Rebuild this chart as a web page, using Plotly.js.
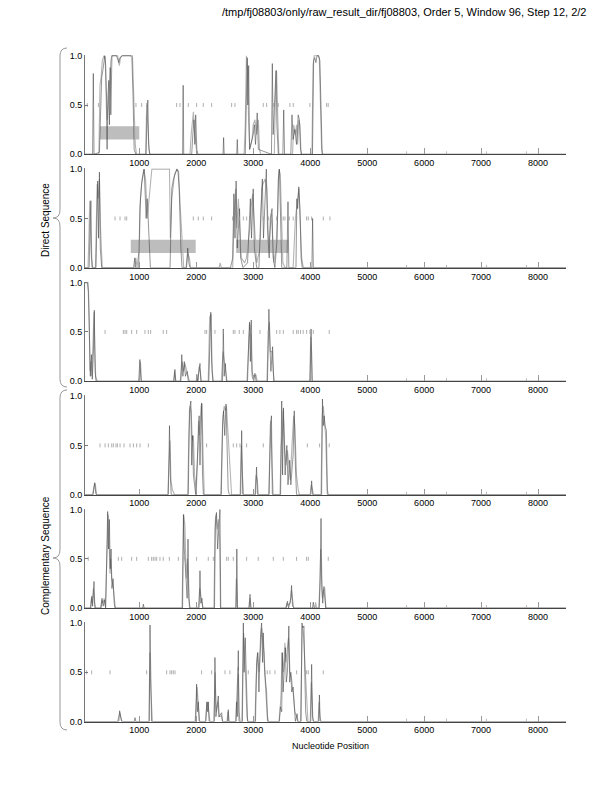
<!DOCTYPE html>
<html><head><meta charset="utf-8">
<script src="https://cdn.plot.ly/plotly-3.0.1.min.js"></script>
<style>body{margin:0;padding:0;background:#fff}#plot{width:612px;height:792px}</style>
</head><body><div id="plot"></div>
<script>
// ---------- DATA ----------
const titleText = "/tmp/fj08803/only/raw_result_dir/fj08803, Order 5, Window 96, Step 12, 2/2";
const xTickVals = [1000,2000,3000,4000,5000,6000,7000,8000];
const yTickVals = [0, 0.5, 1.0];
const yTickText = ["0.0","0.5","1.0"];
const baseMarks = [5691,6393,7095,7796];

// Panel 1 (direct, frame 1)
const p1Dark = [[47,0],[180,0],[193,0.82],[205,0],[300,0.02],[320,0.5],[340,0.78],[360,0.85],[380,0.95],[395,1.0],[410,0.9],[425,0.4],[435,0.05],[450,0.6],[465,0.75],[475,0.3],[490,0.88],[500,0.4],[510,0.97],[520,1.0],[600,1.0],[640,0.93],[660,0.98],[700,1.0],[850,1.0],[870,0.98],[890,0.6],[910,0.05],[940,0],[1120,0],[1135,0.4],[1150,0.55],[1165,0.1],[1180,0],[1760,0],[1770,0.7],[1780,0],[1920,0],[1940,0.2],[1960,0.35],[1975,0.1],[1990,0.4],[2010,0.05],[2030,0],[2470,0],[2480,0.17],[2490,0],[2710,0],[2720,0.15],[2730,0],[2860,0],[2880,0.85],[2895,0.98],[2905,0.5],[2920,0.9],[2935,0.05],[3000,0.2],[3020,0.3],[3040,0.1],[3070,0.42],[3090,0.05],[3320,0],[3335,0.92],[3350,0.2],[3380,0.6],[3400,0.85],[3415,0.3],[3440,0],[3520,0],[3535,0.45],[3550,0],[3660,0],[3680,0.4],[3700,0.15],[3730,0.25],[3760,0.1],[3790,0.4],[3810,0.35],[3830,0.05],[3850,0],[4040,0],[4060,0.95],[4080,0.98],[4100,0.93],[4120,1.0],[4150,1.0],[4170,0.95],[4190,0.3],[4210,0],[8490,0]];
const p1Gray = [[47,0],[290,0],[310,0.7],[330,0.78],[350,0.95],[380,1.0],[400,0.98],[420,0.6],[440,0.35],[460,0.55],[480,0.7],[500,0.95],[520,1.0],[620,1.0],[650,0.9],[670,0.98],[700,1.0],[880,1.0],[900,0.7],[930,0.1],[950,0],[1110,0],[1130,0.5],[1150,0.3],[1170,0.05],[1190,0],[1890,0],[1910,0.2],[1930,0.3],[1950,0.43],[1970,0.25],[1990,0.1],[2010,0],[2840,0],[2860,0.3],[2880,1.0],[2900,0.85],[2920,0.3],[2940,0.05],[2980,0.15],[3000,0.3],[3030,0.35],[3060,0.2],[3090,0.35],[3110,0.05],[3130,0],[3370,0],[3390,0.6],[3410,0.85],[3430,0.4],[3450,0],[3690,0],[3710,0.3],[3740,0.2],[3760,0.3],[3780,0.1],[3800,0.35],[3820,0.3],[3840,0],[4030,0],[4050,0.9],[4070,1.0],[4140,1.0],[4160,0.97],[4180,0.5],[4200,0.05],[4220,0],[8490,0]];
const p1Stops = [88,194,282,942,1042,1129,1655,1714,1860,2006,2123,2270,2621,2679,3176,3235,3352,3440,3644,3703,3995,4288,4316];
const p1Genes = [[310,1000]];

// Panel 2 (direct, frame 2)
const p2Dark = [[47,0],[120,0],[135,0.4],[150,0.68],[165,0.1],[180,0],[240,0],[255,0.6],[270,0.88],[285,0.3],[300,0.97],[315,0.2],[340,0],[900,0],[920,0.1],[935,0],[990,0],[1010,0.6],[1040,0.85],[1070,0.95],[1085,1.0],[1100,0.8],[1120,0.5],[1140,0.7],[1160,0.4],[1180,0.2],[1195,0],[1540,0],[1550,0.35],[1570,0.8],[1600,0.9],[1640,0.98],[1660,1.0],[1680,0.97],[1700,0.8],[1730,0.2],[1750,0],[1830,0],[1850,0.2],[1870,0.05],[1890,0],[2600,0],[2640,0.1],[2660,0.75],[2680,0.3],[2700,0.88],[2720,0.2],[2760,0.6],[2780,0.1],[2820,0],[2900,0.05],[2950,0.7],[2970,0.3],[3000,0.8],[3020,0.2],[3060,0],[3100,0],[3130,0.5],[3160,0.9],[3180,0.3],[3200,0.6],[3230,1.0],[3250,0.4],[3280,0.1],[3300,0.5],[3330,0.6],[3350,0.1],[3380,0],[3420,0.3],[3440,0.9],[3460,1.0],[3480,0.3],[3500,0],[3590,0],[3610,0.67],[3625,0],[3750,0],[3765,0.7],[3780,0.6],[3800,0.82],[3820,0.6],[3840,0.1],[3860,0],[4030,0],[4042,0.5],[4055,0],[8490,0]];
const p2Gray = [[47,0],[100,0],[115,0.3],[130,0.68],[150,0.2],[170,0],[230,0],[245,0.5],[260,0.85],[280,0.7],[300,0.9],[320,0.4],[350,0],[920,0],[940,0.1],[960,0],[1000,0.2],[1020,0.7],[1050,0.9],[1080,1.0],[1110,0.9],[1140,0.5],[1170,0.7],[1200,0.95],[1220,1.0],[1530,1.0],[1545,0.3],[1570,0.7],[1600,0.85],[1620,0.95],[1660,1.0],[1690,0.98],[1720,0.6],[1760,0.1],[1780,0],[1820,0],[1850,0.15],[1880,0.1],[1900,0],[2400,0],[2420,0.05],[2440,0],[2640,0],[2660,0.5],[2690,0.8],[2710,0.4],[2740,0.7],[2770,0.3],[2790,0.1],[2850,0.05],[2880,0.1],[2940,0.4],[2960,0.6],[2990,0.75],[3030,0.3],[3060,0.05],[3120,0.2],[3150,0.8],[3170,0.85],[3210,0.9],[3240,0.8],[3270,0.2],[3300,0.4],[3320,0.55],[3360,0.05],[3400,0.2],[3430,0.6],[3450,1.0],[3475,0.95],[3500,0.5],[3520,0.05],[3560,0],[3700,0],[3740,0.5],[3770,0.65],[3800,0.8],[3830,0.4],[3850,0.1],[3880,0],[8490,0]];
const p2Stops = [574,662,750,779,1948,2036,2123,2270,2638,2755,2826,2884,3176,3264,3411,3527,3557,3633,3702,3762,3936,3966,4025,4229,4346];
const p2Genes = [[850,1990],[2700,3615]];

// Panel 3 (direct, frame 3)
const p3Dark = [[47,1.0],[90,1.0],[110,0.9],[125,0.2],[140,0.05],[160,0.27],[175,0.02],[195,0.3],[210,0.72],[225,0.1],[240,0],[990,0],[1010,0.22],[1030,0],[1610,0],[1625,0.12],[1640,0],[1730,0],[1745,0.27],[1765,0.05],[1790,0.2],[1810,0.05],[1840,0.1],[1860,0],[2000,0],[2010,0.07],[2025,0],[2065,0.18],[2080,0],[2220,0],[2240,0.6],[2255,0.7],[2270,0.2],[2290,0],[2460,0],[2475,0.53],[2490,0.05],[2510,0.18],[2530,0],[2900,0],[2920,0.4],[2935,0.6],[2950,0.2],[2965,0.62],[2980,0.05],[3010,0],[3030,0.08],[3050,0],[3250,0],[3275,0.73],[3290,0.4],[3310,0.1],[3340,0.35],[3360,0],[4000,0],[4015,0.53],[4030,0],[8490,0]];
const p3Gray = [[47,1.0],[100,1.0],[120,0.6],[135,0.1],[150,0.2],[165,0.05],[185,0.35],[205,0.7],[220,0.3],[235,0.05],[260,0],[1000,0],[1020,0.2],[1040,0],[1600,0],[1620,0.1],[1640,0],[1720,0],[1750,0.2],[1780,0.1],[1800,0.18],[1830,0.12],[1860,0.05],[1880,0],[2030,0],[2050,0.15],[2070,0.1],[2090,0],[2210,0],[2235,0.65],[2260,0.68],[2280,0.1],[2300,0],[2440,0],[2470,0.3],[2500,0.15],[2520,0.1],[2540,0],[2890,0],[2915,0.3],[2940,0.58],[2960,0.45],[2980,0.1],[3000,0.05],[3050,0.06],[3070,0],[3240,0],[3265,0.5],[3285,0.6],[3300,0.3],[3330,0.3],[3350,0.1],[3370,0],[3990,0],[4010,0.45],[4025,0.3],[4040,0],[8490,0]];
const p3Stops = [399,720,750,779,866,954,1100,1158,1199,1421,1480,2153,2182,2270,2328,2475,2650,2679,2755,2826,2943,2972,3118,3264,3411,3468,3528,3702,3762,3790,3830,3877,3937,3995,4054,4334];
const p3Genes = [];

// Panel 4 (complementary, frame 1)
const p4Dark = [[47,0],[190,0],[215,0.12],[240,0],[1510,0],[1530,0.7],[1545,0.2],[1560,0],[1860,0],[1880,0.85],[1905,0.95],[1920,0.3],[1935,0.6],[1950,0.2],[1970,0.1],[1990,0],[2030,0.5],[2050,0.8],[2065,0.3],[2080,0.7],[2095,0.93],[2110,0.2],[2125,0],[2440,0],[2460,0.7],[2480,0.85],[2500,0.6],[2522,0.92],[2540,0.4],[2560,0.05],[2580,0],[2780,0],[2797,0.65],[2815,0],[3040,0],[3058,0.28],[3075,0],[3280,0],[3300,0.7],[3320,0.8],[3335,0],[3480,0],[3500,0.95],[3515,0.2],[3530,0.88],[3545,0.35],[3560,0.2],[3590,0.5],[3610,0.1],[3640,0.35],[3660,0.1],[3700,0.4],[3720,0.85],[3740,0.3],[3760,0],[4010,0],[4025,0.14],[4040,0],[4200,0],[4215,0.97],[4230,0.7],[4245,0.8],[4260,0.7],[4285,0.65],[4300,0],[8490,0]];
const p4Gray = [[47,0],[180,0],[205,0.08],[225,0.12],[250,0],[1500,0],[1520,0.3],[1540,0.55],[1555,0.15],[1580,0.05],[1620,0],[1850,0],[1870,0.6],[1890,0.9],[1910,0.85],[1930,0.55],[1950,0.6],[1970,0.2],[2000,0.05],[2020,0.3],[2040,0.75],[2060,0.6],[2085,0.9],[2100,0.92],[2120,0.4],[2140,0],[2430,0],[2450,0.4],[2470,0.8],[2490,0.9],[2510,0.85],[2530,0.9],[2560,0.6],[2590,0.3],[2620,0],[2770,0],[2790,0.5],[2810,0.2],[2830,0],[3030,0],[3050,0.2],[3070,0.15],[3090,0],[3270,0],[3290,0.5],[3310,0.75],[3330,0.3],[3350,0],[3470,0],[3490,0.5],[3510,0.6],[3525,0.85],[3550,0.5],[3575,0.3],[3600,0.45],[3630,0.3],[3650,0.15],[3680,0.5],[3710,0.8],[3730,0.7],[3760,0.2],[3790,0.05],[3810,0],[4000,0],[4020,0.1],[4040,0.05],[4060,0],[4190,0],[4210,0.8],[4230,0.9],[4250,0.75],[4270,0.6],[4300,0.05],[4320,0],[8490,0]];
const p4Stops = [310,399,457,516,545,591,615,662,732,837,896,954,1013,1159,2182,2650,2709,2767,2884,3176,3305,3950,4165,4334];
const p4Genes = [];

// Panel 5 (complementary, frame 2)
const p5Dark = [[47,0],[150,0],[165,0.12],[180,0.02],[205,0.27],[220,0],[330,0],[345,0.1],[365,0.02],[390,0.08],[410,0],[425,0.5],[445,0.98],[460,0.6],[475,0.9],[490,0.4],[505,0.6],[520,0.2],[540,0.3],[560,0.05],[575,0],[1060,0],[1071,0.04],[1085,0],[1760,0],[1775,0.95],[1790,0.6],[1840,0.1],[1855,0.7],[1870,0.1],[1890,0],[2050,0],[2065,0.38],[2080,0.05],[2100,0.1],[2115,0],[2320,0],[2335,0.9],[2355,0.97],[2375,0.6],[2395,0.85],[2416,1.0],[2430,0],[2700,0],[2712,0.6],[2725,0],[2930,0],[2943,0.14],[2960,0],[3580,0],[3600,0.07],[3620,0],[3660,0.1],[3673,0.23],[3690,0.02],[3720,0],[4040,0],[4054,0.06],[4070,0],[4160,0],[4175,0.3],[4190,0.91],[4205,0.2],[4220,0.05],[4240,0.22],[4255,0.2],[4270,0],[8490,0]];
const p5Gray = [[47,0],[140,0],[160,0.1],[175,0.05],[195,0.2],[215,0.05],[235,0],[320,0],[340,0.08],[360,0.05],[385,0.1],[405,0.02],[420,0.3],[440,0.85],[455,0.95],[470,0.7],[485,0.35],[500,0.5],[515,0.3],[535,0.25],[555,0.1],[580,0],[1750,0],[1765,0.7],[1780,0.95],[1800,0.85],[1825,0.3],[1845,0.5],[1865,0.2],[1880,0],[2030,0],[2045,0.05],[2060,0.2],[2080,0.1],[2100,0.05],[2120,0],[2310,0],[2330,0.8],[2350,0.95],[2370,0.8],[2390,0.9],[2410,0.7],[2425,0],[2690,0],[2705,0.3],[2720,0],[2920,0],[2940,0.1],[2960,0],[3570,0],[3590,0.05],[3610,0.03],[3650,0.05],[3670,0.18],[3690,0.05],[3710,0],[4080,0],[4095,0.06],[4110,0],[4150,0],[4170,0.25],[4185,0.6],[4200,0.3],[4215,0.1],[4235,0.2],[4260,0.1],[4280,0],[8490,0]];
const p5Stops = [105,632,691,866,954,1159,1217,1246,1276,1305,1363,1421,1527,1685,1801,2006,2211,2299,2533,2562,2650,2884,3088,3352,3528,3761,3936,3966,4317];
const p5Genes = [];

// Panel 6 (complementary, frame 3)
const p6Dark = [[47,0],[640,0],[655,0.11],[670,0.05],[690,0],[910,0],[925,0.04],[940,0],[1175,0],[1188,0.98],[1200,0.3],[1215,0],[1990,0],[2006,0.38],[2020,0.1],[2036,0.2],[2050,0],[2170,0],[2185,0.2],[2200,0.1],[2211,0.2],[2225,0],[2315,0],[2328,0.65],[2345,0.05],[2387,0.26],[2400,0.05],[2445,0.09],[2460,0],[2550,0],[2562,0.12],[2575,0],[2700,0],[2709,0.2],[2720,0.05],[2738,0.72],[2750,0],[2810,0],[2826,1.0],[2840,0.5],[2860,0.85],[2884,0.4],[2900,0],[3040,0],[3059,0.6],[3080,0.7],[3100,0.3],[3130,0.9],[3147,1.0],[3165,0.6],[3176,0.9],[3200,0.5],[3235,0.3],[3250,0],[3460,0],[3475,0.15],[3500,0.1],[3510,0.7],[3525,0.3],[3550,0.6],[3565,0.75],[3580,0.4],[3600,0.5],[3625,0.97],[3640,0.4],[3660,0.5],[3675,0.3],[3700,0.35],[3720,0.15],[3740,0],[3770,0.08],[3785,0],[3840,0],[3855,1.0],[3870,0.95],[3890,0.97],[3905,0.5],[3920,0.1],[3940,0],[4010,0],[4025,0.58],[4040,0.05],[4060,0],[4150,0],[4162,0.27],[4175,0],[8490,0]];
const p6Gray = [[47,0],[620,0],[640,0.05],[660,0.09],[680,0.03],[700,0],[1170,0],[1185,0.7],[1200,0.35],[1215,0.05],[1230,0],[1980,0],[1995,0.2],[2015,0.35],[2040,0.15],[2060,0],[2160,0],[2180,0.15],[2200,0.2],[2220,0.1],[2240,0],[2310,0],[2330,0.5],[2350,0.1],[2380,0.2],[2400,0.05],[2440,0.06],[2465,0],[2540,0],[2555,0.1],[2570,0],[2690,0],[2710,0.25],[2735,0.55],[2750,0.1],[2770,0],[2800,0],[2815,0.6],[2830,0.9],[2850,0.7],[2870,0.3],[2890,0.05],[2910,0],[3030,0],[3050,0.4],[3075,0.7],[3100,0.5],[3125,0.8],[3150,0.95],[3170,0.8],[3190,0.7],[3220,0.3],[3250,0.05],[3270,0],[3450,0],[3470,0.1],[3490,0.3],[3505,0.7],[3530,0.5],[3555,0.8],[3575,0.6],[3600,0.75],[3620,0.85],[3645,0.5],[3670,0.45],[3700,0.3],[3730,0.1],[3760,0.05],[3780,0],[3830,0],[3845,0.6],[3860,0.97],[3880,0.9],[3900,0.7],[3920,0.5],[3940,0.3],[3960,0],[4000,0],[4020,0.4],[4035,0.2],[4050,0],[4140,0],[4155,0.2],[4170,0.05],[4190,0],[8490,0]];
const p6Stops = [76,164,486,1129,1480,1539,1568,1597,1627,2094,2270,2504,2591,2738,2913,3206,3247,3293,3381,3762,3937,3966,4229];
const p6Genes = [];

// ---------- BUILD ----------
const panels = [
  {dark:p1Dark, gray:p1Gray, stops:p1Stops, genes:p1Genes},
  {dark:p2Dark, gray:p2Gray, stops:p2Stops, genes:p2Genes},
  {dark:p3Dark, gray:p3Gray, stops:p3Stops, genes:p3Genes},
  {dark:p4Dark, gray:p4Gray, stops:p4Stops, genes:p4Genes},
  {dark:p5Dark, gray:p5Gray, stops:p5Stops, genes:p5Genes},
  {dark:p6Dark, gray:p6Gray, stops:p6Stops, genes:p6Genes}
];

const W = 612, H = 792, ML = 85, MR = 46;
const PW = W - ML - MR;
const FONT = "Liberation Sans, Arial, Helvetica, sans-serif";
const panelTop0 = 55.7, panelStep = 113.46, panelH = 98.6; // pixel positions of y=1 and spacing
const YMAX = 1.01;

const px2x = p => (p - ML) / PW;
const py2y = p => 1 - p / H;

const traces = [];
const layout = {
  width: W, height: H,
  margin: {l: ML, r: MR, t: 0, b: 0},
  paper_bgcolor: "#fff", plot_bgcolor: "#fff",
  showlegend: false,
  font: {family: FONT, size: 9, color: "#000"},
  shapes: [], annotations: []
};

panels.forEach((p, i) => {
  const n = i === 0 ? "" : String(i + 1);
  const xa = "x" + n, ya = "y" + n;
  const top1 = panelTop0 + panelStep * i;
  const bottom = top1 + panelH;
  const topMax = top1 - (YMAX - 1) * panelH;
  layout["xaxis" + n] = {
    domain: [0, 1], anchor: ya, range: [47, 8490],
    tickvals: xTickVals, ticks: "inside", ticklen: 6, tickwidth: 1, tickcolor: "#999",
    showline: true, linecolor: "#444", linewidth: 1,
    showgrid: false, zeroline: false, fixedrange: true,
    tickfont: {family: FONT, size: 9, color: "#000"}
  };
  layout["yaxis" + n] = {
    domain: [py2y(bottom), py2y(topMax)], anchor: xa, range: [0, YMAX],
    tickvals: yTickVals, ticktext: yTickText, ticks: "inside", ticklen: 3, tickwidth: 1, tickcolor: "#777",
    showline: true, linecolor: "#777", linewidth: 1,
    showgrid: false, zeroline: false, fixedrange: true,
    tickfont: {family: FONT, size: 9, color: "#000"}
  };
  traces.push({x: p.gray.map(d => d[0]), y: p.gray.map(d => d[1]), xaxis: xa, yaxis: ya,
    type: "scatter", mode: "lines", line: {color: "#b4b4b4", width: 1.1}, hoverinfo: "skip"});
  traces.push({x: p.dark.map(d => d[0]), y: p.dark.map(d => d[1]), xaxis: xa, yaxis: ya,
    type: "scatter", mode: "lines", line: {color: "#404040", width: 0.55}, hoverinfo: "skip"});
  const sx = [], sy = [];
  p.stops.forEach(s => { sx.push(s, s, null); sy.push(0.48, 0.52, null); });
  traces.push({x: sx, y: sy, xaxis: xa, yaxis: ya, type: "scatter", mode: "lines",
    line: {color: "#9a9a9a", width: 0.8}, hoverinfo: "skip"});
  const mx = [], my = [];
  baseMarks.forEach(s => { mx.push(s, s, null); my.push(0, 0.03, null); });
  traces.push({x: mx, y: my, xaxis: xa, yaxis: ya, type: "scatter", mode: "lines",
    line: {color: "#aaa", width: 0.8}, hoverinfo: "skip"});
  p.genes.forEach(g => {
    layout.shapes.push({type: "rect", xref: xa, yref: ya, x0: g[0], x1: g[1], y0: 0.15, y1: 0.285,
      fillcolor: "#bdbdbd", line: {width: 0}, layer: "below"});
  });
});

// braces (pixel geometry -> paper)
function bracePath(top, tip, bottom) {
  const xe = 67, xb = 60, xt = 53, r = 8;
  const P = (x, y) => px2x(x).toFixed(4) + "," + py2y(y).toFixed(4);
  return "M" + P(xe, top) + " Q" + P(xb, top) + " " + P(xb, top + r) +
         " L" + P(xb, tip - r) + " Q" + P(xb, tip) + " " + P(xt, tip) +
         " Q" + P(xb, tip) + " " + P(xb, tip + r) +
         " L" + P(xb, bottom - r) + " Q" + P(xb, bottom) + " " + P(xe, bottom);
}
layout.shapes.push({type: "path", xref: "paper", yref: "paper", path: bracePath(48, 218, 387), line: {color: "#999", width: 1}});
layout.shapes.push({type: "path", xref: "paper", yref: "paper", path: bracePath(390, 558, 730), line: {color: "#999", width: 1}});

layout.annotations.push({text: titleText, xref: "paper", yref: "paper", x: px2x(588), y: py2y(12),
  xanchor: "right", yanchor: "middle", showarrow: false, font: {family: FONT, size: 11, color: "#000"}});
layout.annotations.push({text: "Direct Sequence", xref: "paper", yref: "paper", x: px2x(45), y: py2y(220),
  xanchor: "center", yanchor: "middle", textangle: -90, showarrow: false, font: {family: FONT, size: 10, color: "#000"}});
layout.annotations.push({text: "Complementary Sequence", xref: "paper", yref: "paper", x: px2x(45), y: py2y(556),
  xanchor: "center", yanchor: "middle", textangle: -90, showarrow: false, font: {family: FONT, size: 10, color: "#000"}});
layout.annotations.push({text: "Nucleotide Position", xref: "paper", yref: "paper", x: px2x(330), y: py2y(746),
  xanchor: "center", yanchor: "middle", showarrow: false, font: {family: FONT, size: 9, color: "#000"}});

Plotly.newPlot("plot", traces, layout, {staticPlot: true, displayModeBar: false});
</script>
</body></html>
